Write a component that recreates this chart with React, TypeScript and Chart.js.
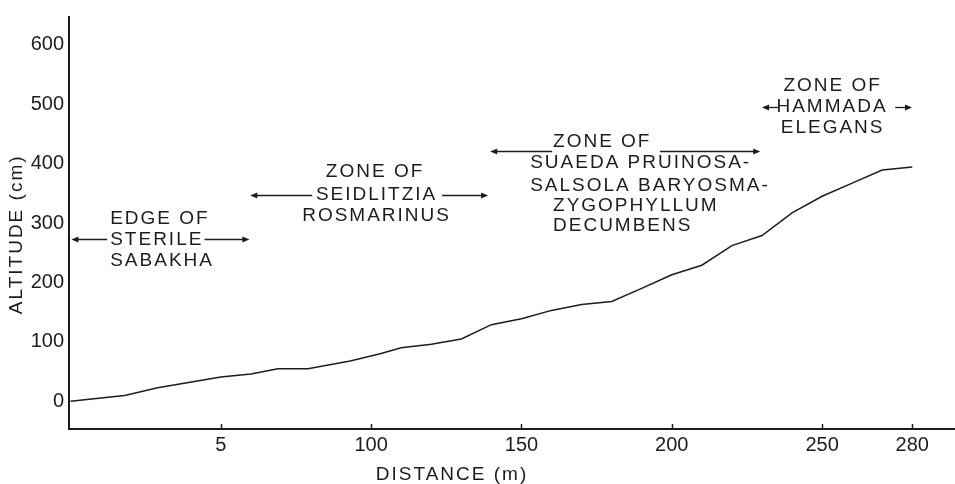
import React, { useEffect, useRef } from "react";
import { Chart, registerables } from "chart.js";

Chart.register(...registerables);

// ---- data ----
const distance = [0, 18, 29, 50, 60, 69, 79, 93, 103, 110, 120, 130, 140, 150, 160, 170, 180, 190, 200, 210, 220, 230, 240, 250, 260, 270, 280];
const altitude = [0, 10, 23, 41, 46, 55, 55, 68, 80, 90, 96, 105, 129, 139, 153, 163, 168, 190, 213, 229, 262, 279, 317, 345, 367, 389, 394];

const xTickValues = [50, 100, 150, 200, 250, 280];
const xTickLabels = ["5", "100", "150", "200", "250", "280"];
const yTickValues = [0, 100, 200, 300, 400, 500, 600];

const xTitle = "DISTANCE (m)";
const yTitle = "ALTITUDE (cm)";

const zoneTexts = [
  ["EDGE OF", "STERILE", "SABAKHA"],
  ["ZONE OF", "SEIDLITZIA", "ROSMARINUS"],
  ["ZONE OF", "SUAEDA PRUINOSA-", "SALSOLA BARYOSMA-", "ZYGOPHYLLUM", "DECUMBENS"],
  ["ZONE OF", "HAMMADA", "ELEGANS"],
];

// placement of zone labels, in data units (distance, altitude)
const zoneLayout = [
  { align: "left", xs: [13.2, 13.2, 13.2], ys: [307.5, 272.6, 236], arrows: [{ y: 272.6, from: 12.2, to: 0.3 }, { y: 272.6, from: 44.6, to: 59.5 }] },
  { align: "center", xs: [101.3, 101.8, 101.8], ys: [385.6, 347.4, 312.4], arrows: [{ y: 347.4, from: 80.4, to: 59.8 }, { y: 347.4, from: 123.6, to: 138.9 }] },
  { align: "left", xs: [160.5, 152.9, 152.9, 160.5, 160.5], ys: [437, 402, 363, 329, 296], arrows: [{ y: 420.5, from: 160.2, to: 139.6 }, { y: 420.5, from: 196.1, to: 229.4 }] },
  { align: "center", xs: [253.5, 253.3, 253.5], ys: [530, 495.3, 460.4], arrows: [{ y: 495.3, from: 235.3, to: 230 }, { y: 495.3, from: 274.3, to: 279.9 }] },
];

const FONT = '"Liberation Sans", Arial, Helvetica, sans-serif';
const INK = "#1c1c1c";

const annotationPlugin = {
  id: "zoneAnnotations",
  afterDraw(chart: any) {
    const { ctx, chartArea, scales } = chart;
    const xs = scales.x;
    const ys = scales.y;
    ctx.save();
    ctx.fillStyle = INK;
    ctx.strokeStyle = INK;

    // inward x tick marks
    ctx.lineWidth = 1.5;
    xTickValues.forEach((v) => {
      const px = Math.round(xs.getPixelForValue(v)) + 0.5;
      ctx.beginPath();
      ctx.moveTo(px, chartArea.bottom);
      ctx.lineTo(px, chartArea.bottom - 5);
      ctx.stroke();
    });

    // axis titles
    ctx.font = `19px ${FONT}`;
    (ctx as any).letterSpacing = "2px";
    ctx.textAlign = "center";
    ctx.textBaseline = "middle";
    ctx.fillText(xTitle, xs.getPixelForValue(126.9), chartArea.bottom + 46);
    ctx.save();
    ctx.translate(17, ys.getPixelForValue(281));
    ctx.rotate(-Math.PI / 2);
    ctx.fillText(yTitle, 0, 0);
    ctx.restore();

    // zone labels
    zoneTexts.forEach((lines, i) => {
      const lay = zoneLayout[i];
      ctx.textAlign = lay.align as CanvasTextAlign;
      lines.forEach((t, j) => {
        ctx.fillText(t, xs.getPixelForValue(lay.xs[j]), ys.getPixelForValue(lay.ys[j]));
      });
      lay.arrows.forEach((a) => {
        const y = Math.round(ys.getPixelForValue(a.y)) + 0.5;
        const x0 = xs.getPixelForValue(a.from);
        const x1 = xs.getPixelForValue(a.to);
        const dir = x1 > x0 ? 1 : -1;
        ctx.lineWidth = 1.3;
        ctx.beginPath();
        ctx.moveTo(x0, y);
        ctx.lineTo(x1 - dir * 4, y);
        ctx.stroke();
        ctx.beginPath();
        ctx.moveTo(x1, y);
        ctx.lineTo(x1 - dir * 7, y - 3);
        ctx.lineTo(x1 - dir * 7, y + 3);
        ctx.closePath();
        ctx.fill();
      });
    });
    ctx.restore();
  },
};

export default function App() {
  const canvasRef = useRef<HTMLCanvasElement | null>(null);

  useEffect(() => {
    document.body.style.margin = "0";
    const canvas = canvasRef.current;
    if (!canvas) return;
    const chart = new Chart(canvas, {
      type: "line",
      data: {
        datasets: [
          {
            data: distance.map((d, i) => ({ x: d, y: altitude[i] })),
            borderColor: INK,
            borderWidth: 1.5,
            pointRadius: 0,
            tension: 0,
            fill: false,
          },
        ],
      },
      options: {
        responsive: false,
        animation: false,
        layout: { padding: { top: 12, right: 0, left: 0, bottom: 0 } },
        plugins: { legend: { display: false }, tooltip: { enabled: false }, title: { display: false } },
        scales: {
          x: {
            type: "linear",
            min: -0.5,
            max: 294.2,
            grid: { display: false, drawTicks: false },
            border: { display: true, color: INK, width: 2 },
            ticks: {
              padding: 4,
              autoSkip: false,
              maxRotation: 0,
              color: INK,
              font: { family: FONT, size: 20 },
              callback: (v: any) => {
                const k = xTickValues.indexOf(Number(v));
                return k >= 0 ? xTickLabels[k] : "";
              },
            },
            afterBuildTicks: (s: any) => {
              s.ticks = xTickValues.map((v) => ({ value: v }));
            },
            afterFit: (s: any) => {
              s.height = 55;
            },
          },
          y: {
            type: "linear",
            min: -46.5,
            max: 646.5,
            grid: { display: false, drawTicks: false },
            border: { display: true, color: INK, width: 2 },
            ticks: {
              padding: 5,
              autoSkip: false,
              color: INK,
              font: { family: FONT, size: 20 },
            },
            afterBuildTicks: (s: any) => {
              s.ticks = yTickValues.map((v) => ({ value: v }));
            },
            afterFit: (s: any) => {
              s.width = 69;
            },
          },
        },
      },
      plugins: [annotationPlugin],
    });
    return () => chart.destroy();
  }, []);

  return (
    <div style={{ position: "absolute", left: 0, top: 0, width: 955, height: 484, background: "#fff" }}>
      <canvas ref={canvasRef} width={955} height={484} />
    </div>
  );
}
